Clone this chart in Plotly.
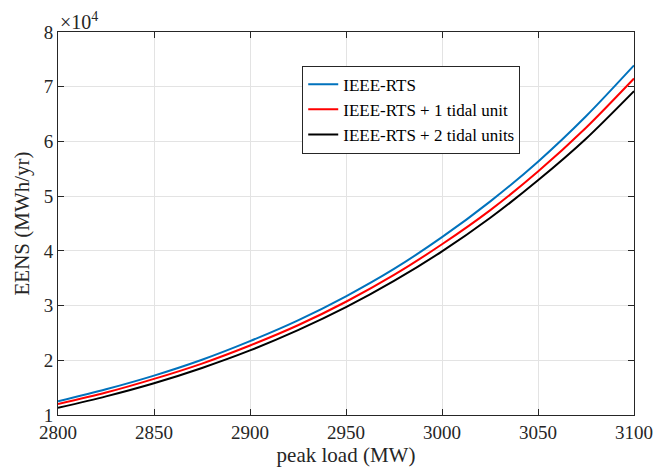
import plotly.graph_objects as go

peak_load = [2800, 2825, 2850, 2875, 2900, 2925, 2950, 2975, 3000, 3025, 3050, 3075, 3100]
eens_rts = [12500, 14700, 17200, 20100, 23500, 27300, 31700, 36700, 42500, 49000, 56300, 64600, 73900]
eens_1tidal = [12000, 14100, 16600, 19400, 22700, 26400, 30700, 35600, 41200, 47400, 54500, 62500, 71500]
eens_2tidal = [11300, 13400, 15800, 18600, 21800, 25500, 29700, 34500, 39900, 46000, 52900, 60500, 69200]

names = ["IEEE-RTS", "IEEE-RTS + 1 tidal unit", "IEEE-RTS + 2 tidal units"]
colors = ["#0072BD", "#FF0000", "#000000"]
series = [eens_rts, eens_1tidal, eens_2tidal]

font_family = "Liberation Serif, Times New Roman, serif"

fig = go.Figure()
for name, color, vals in zip(names, colors, series):
    fig.add_trace(go.Scatter(
        x=peak_load, y=[v / 1e4 for v in vals], mode="lines", name=name,
        line=dict(color=color, width=2, shape="spline", smoothing=0.8),
    ))

axis_common = dict(
    showline=True, linecolor="#262626", linewidth=1, mirror="ticks",
    ticks="inside", ticklen=6, tickcolor="#262626",
    showgrid=True, gridcolor="#e3e3e3", gridwidth=1, zeroline=False,
    tickfont=dict(family=font_family, size=19, color="#262626"),
)

# page body has an 8px margin, so the figure is shrunk by 8px and margins offset
fig.update_layout(
    width=660, height=463,
    margin=dict(l=50, r=34, t=24, b=53),
    paper_bgcolor="white", plot_bgcolor="white",
    font=dict(family=font_family, color="#262626"),
    xaxis=dict(range=[2800, 3100], dtick=50,
               title=dict(text="peak load (MW)", font=dict(family=font_family, size=21), standoff=2),
               **axis_common),
    yaxis=dict(range=[1, 8], dtick=1,
               title=dict(text="EENS (MWh/yr)", font=dict(family=font_family, size=21), standoff=8),
               **axis_common),
    legend=dict(x=0.424, y=0.912, xanchor="left", yanchor="top",
                bgcolor="white", bordercolor="#262626", borderwidth=1,
                font=dict(family=font_family, size=17, color="#000000"),
                tracegroupgap=0, itemwidth=30),
    showlegend=True,
)

fig.add_annotation(
    xref="paper", yref="paper", x=0.0, y=1.0, xanchor="left", yanchor="bottom",
    text="×10<sup>4</sup>", showarrow=False, yshift=-3,
    font=dict(family=font_family, size=20, color="#262626"),
)

fig.write_html("out.html")
